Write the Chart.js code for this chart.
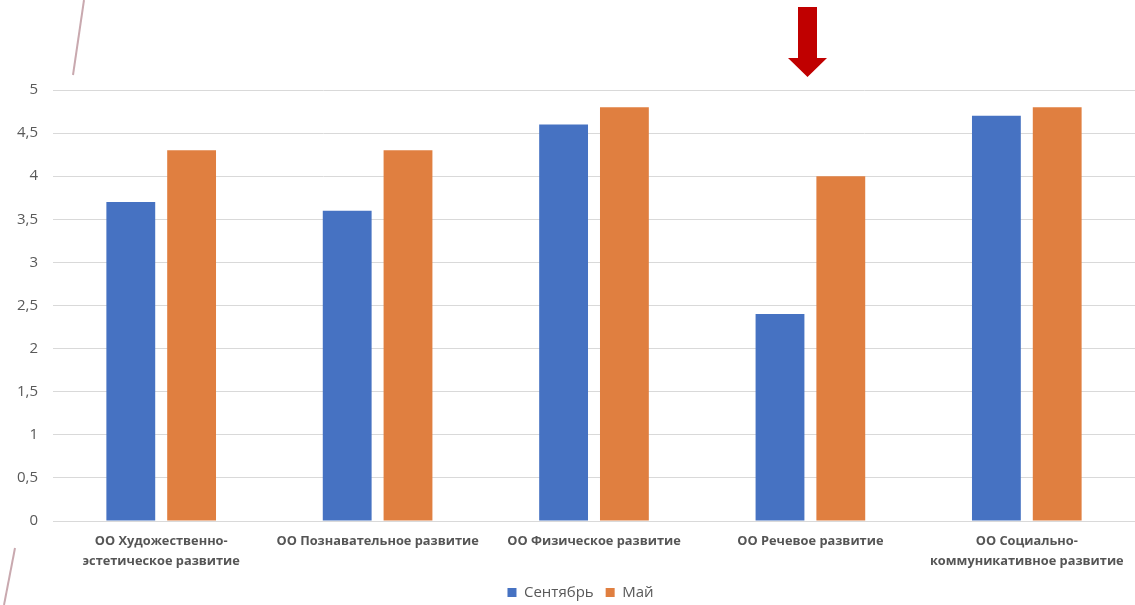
<!DOCTYPE html>
<html>
<head>
<meta charset="utf-8">
<script src="https://cdn.jsdelivr.net/npm/chart.js@4.4.1/dist/chart.umd.min.js"></script>
<style>
html,body{margin:0;padding:0;background:#fff;}
#wrap{position:relative;width:1135px;height:605px;}
</style>
</head>
<body>
<div id="wrap"><canvas id="c" width="1135" height="605"></canvas></div>
<script>
const categories = [
  ["ОО Художественно-", "эстетическое развитие"],
  ["ОО Познавательное развитие"],
  ["ОО Физическое развитие"],
  ["ОО Речевое развитие"],
  ["ОО Социально-", "коммуникативное развитие"]
];
const seriesNames = ["Сентябрь", "Май"];
const september = [3.7, 3.6, 4.6, 2.4, 4.7];
const may = [4.3, 4.3, 4.8, 4.0, 4.8];
const yMin = 0, yMax = 5, yStep = 0.5;

const decor = {
  id: 'decor',
  afterLayout(chart) {
    if (chart.legend) chart.legend.left = 26;
  },
  afterDraw(chart) {
    const ctx = chart.ctx;
    ctx.save();
    ctx.strokeStyle = '#C9A9AF';
    ctx.lineWidth = 2;
    ctx.beginPath(); ctx.moveTo(84, 0); ctx.lineTo(73, 75); ctx.stroke();
    ctx.beginPath(); ctx.moveTo(15, 548); ctx.lineTo(4, 605); ctx.stroke();
    ctx.fillStyle = '#C00000';
    ctx.beginPath();
    ctx.moveTo(798, 7); ctx.lineTo(817, 7); ctx.lineTo(817, 58);
    ctx.lineTo(827, 58); ctx.lineTo(807.5, 77); ctx.lineTo(788, 58);
    ctx.lineTo(798, 58); ctx.closePath(); ctx.fill();
    ctx.restore();
  }
};

new Chart(document.getElementById('c'), {
  type: 'bar',
  data: {
    labels: categories,
    datasets: [
      { label: seriesNames[0], data: september, backgroundColor: '#4672C2' },
      { label: seriesNames[1], data: may, backgroundColor: '#E07F40' }
    ]
  },
  options: {
    responsive: false,
    animation: false,
    devicePixelRatio: 1,
    layout: { padding: { top: 90, right: 0, left: 0, bottom: -5 } },
    datasets: { bar: { categoryPercentage: 0.562, barPercentage: 0.803 } },
    plugins: {
      tooltip: { enabled: false },
      legend: {
        position: 'bottom',
        labels: {
          boxWidth: 9, boxHeight: 9, padding: 12,
          color: '#595959',
          font: { family: "'Open Sans'", size: 15 }
        }
      }
    },
    scales: {
      x: {
        grid: { display: false, drawTicks: false },
        border: { color: '#D9D9D9', width: 1 },
        ticks: {
          color: '#555555',
          padding: 11,
          maxRotation: 0,
          autoSkip: false,
          font: { family: "'Open Sans'", size: 12.8, weight: 'bold', lineHeight: 1.52 }
        },
        afterFit(s) { s.height = 52; }
      },
      y: {
        min: yMin, max: yMax,
        border: { display: false },
        grid: { color: '#D9D9D9', drawTicks: false },
        ticks: {
          stepSize: yStep,
          padding: 15,
          color: '#595959',
          font: { family: "'Open Sans'", size: 15 },
          callback: v => String(v).replace('.', ',')
        },
        afterFit(s) { s.width = 53; }
      }
    }
  },
  plugins: [decor]
});
</script>
</body>
</html>
